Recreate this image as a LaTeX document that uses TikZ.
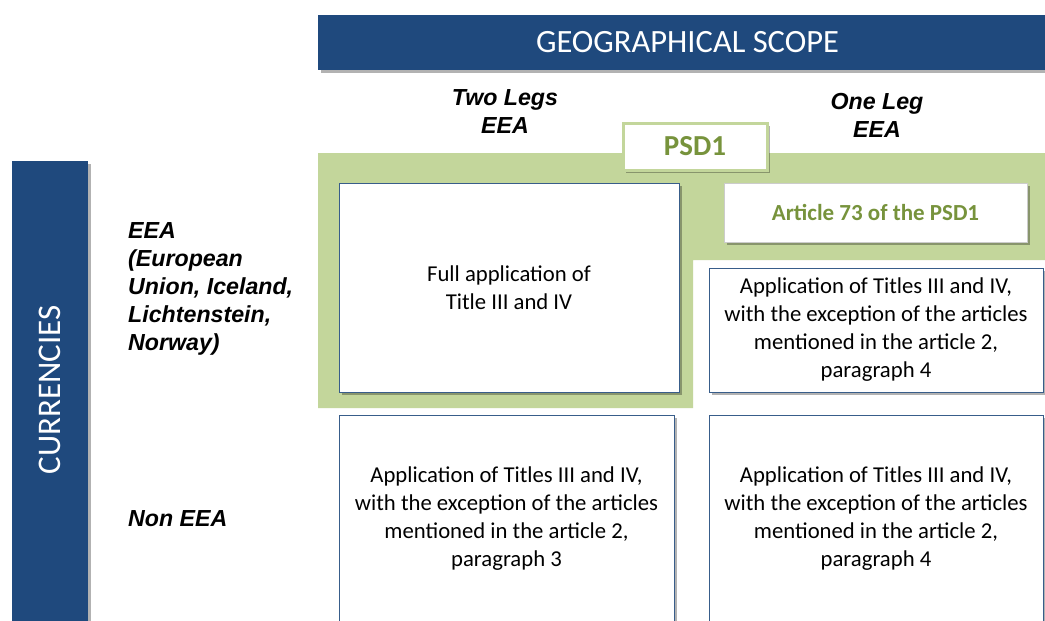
\documentclass[tikz,border=0pt]{standalone}
\usepackage{fontspec}
\setmainfont{Carlito}
\newfontfamily\labfont{Liberation Sans}
\usetikzlibrary{shadows}
\definecolor{navy}{RGB}{31,73,125}
\definecolor{psdgreen}{RGB}{195,214,155}
\definecolor{psdtext}{RGB}{119,147,60}
\definecolor{boxline}{RGB}{56,93,138}
\begin{document}
\begin{tikzpicture}[x=1pt,y=-1pt,
  softshadow/.style={drop shadow={shadow xshift=2.5pt,shadow yshift=-2.5pt,fill=black,opacity=0.3}},
  banner/.style={fill=navy,text=white,inner sep=0pt,softshadow,
    font=\fontsize{32.5}{34}\selectfont},
  cell/.style={draw=boxline,line width=1pt,fill=white,softshadow,inner sep=0pt,
    align=center,font=\fontsize{22.7}{28}\selectfont},
  rowlab/.style={font=\labfont\bfseries\itshape\fontsize{23.2}{28}\selectfont,
    align=left,inner sep=0pt,anchor=west},
  collab/.style={font=\labfont\bfseries\itshape\fontsize{23.2}{28}\selectfont,
    align=center,inner sep=0pt},
  psdbox/.style={draw=psdgreen,line width=3pt,fill=white,softshadow,inner sep=0pt,
    text=psdtext,font=\bfseries\fontsize{29}{32}\selectfont},
  artbox/.style={draw=black!20,line width=0.8pt,fill=white,softshadow,inner sep=0pt,
    text=psdtext,font=\bfseries\fontsize{23}{26}\selectfont}]
\useasboundingbox (0,0) rectangle (1045,621);
\fill[white] (0,0) rectangle (1045,621);
% green PSD1 area
\fill[psdgreen] (318,153) -| (1045,260) -| (693,408) -| cycle;
% headers
\node[banner,minimum width=739pt,minimum height=55pt] (geo) at (687.5,42.5) {GEOGRAPHICAL SCOPE};
\node[banner,minimum width=76pt,minimum height=470pt] (curr) at (50,396) {};
\node[rotate=90,text=white,inner sep=0pt,font=\fontsize{33}{36}\selectfont] (currtxt) at (50,390) {CURRENCIES};
% column labels
\node[collab] (two) at (505,112) {Two Legs\\EEA};
\node[collab] (one) at (877,115) {One Leg\\EEA};
% row labels
\node[rowlab] (eea) at (128,289) {EEA\\(European\\Union, Iceland,\\Lichtenstein,\\Norway)};
\node[rowlab] (noneea) at (128,519) {Non EEA};
% cells
\node[cell,minimum width=340pt,minimum height=209pt] (c11) at (509,287.5) {Full application of\\Title III and IV};
\node[cell,minimum width=334pt,minimum height=124pt] (c12) at (876,330) {Application of Titles III and IV,\\with the exception of the articles\\mentioned in the article 2,\\paragraph 4};
\node[cell,minimum width=335pt,minimum height=208pt] (c21) at (506.5,519) {Application of Titles III and IV,\\with the exception of the articles\\mentioned in the article 2,\\paragraph 3};
\node[cell,minimum width=334pt,minimum height=208pt] (c22) at (876,519) {Application of Titles III and IV,\\with the exception of the articles\\mentioned in the article 2,\\paragraph 4};
% PSD1 labels
\node[psdbox,minimum width=144pt,minimum height=47pt] (psd) at (695,146.5) {PSD1};
\node[artbox,minimum width=303pt,minimum height=59pt] (art) at (875.5,212.5) {Article 73 of the PSD1};
\end{tikzpicture}
\end{document}
